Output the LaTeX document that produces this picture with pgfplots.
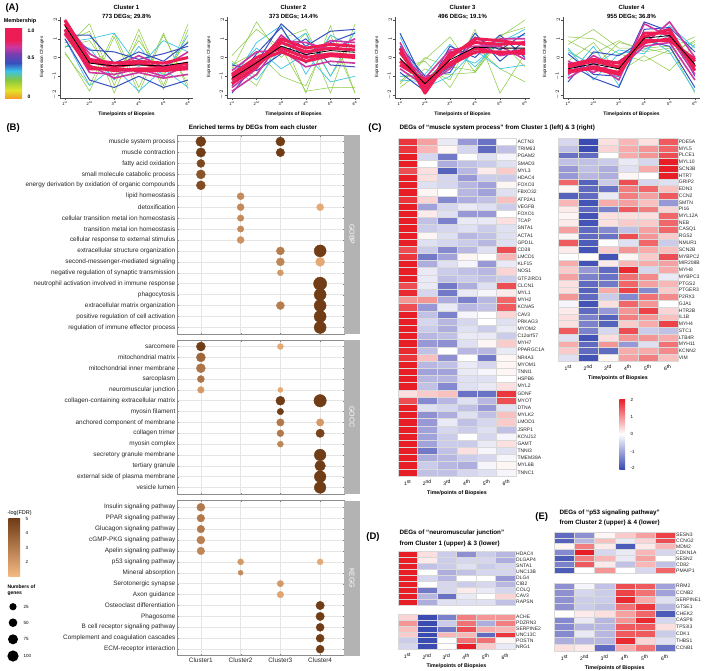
\documentclass[border=0pt]{standalone}
\usepackage{fontspec}
\setmainfont{Liberation Sans}
\usepackage{pgfplots}
\usepackage{pgfplotstable}
\usetikzlibrary{calc}
\pgfplotsset{compat=1.18}

% membership colours (A)
\definecolor{mred}{RGB}{238,28,84}
\definecolor{mmag}{RGB}{205,55,160}
\definecolor{mpur}{RGB}{120,62,175}
\definecolor{mblu}{RGB}{55,80,190}
\definecolor{mcya}{RGB}{60,195,230}
\definecolor{mgrn}{RGB}{135,200,60}
\definecolor{myel}{RGB}{225,228,45}
\definecolor{mora}{RGB}{245,160,35}
% heatmaps
\definecolor{hblue}{RGB}{58,76,178}
\definecolor{hred}{RGB}{232,30,38}
% dot plot
\definecolor{blight}{RGB}{244,184,130}
\definecolor{bdark}{RGB}{112,60,22}
\definecolor{stripgray}{RGB}{179,179,179}

\newcommand{\fs}[1]{\fontsize{#1}{#1}\selectfont}

\newdimen\cellw \newdimen\cellh
\pgfdeclareplotmark{cell}{%
  \pgfpathrectangle{\pgfpoint{-0.5\cellw}{-0.5\cellh}}{\pgfpoint{\cellw}{\cellh}}%
  \pgfusepathqfillstroke}

\pgfplotsset{
  aclust/.style={scale only axis, height=81pt, anchor=north west,
    xmin=0.8, xmax=6.2, ymin=-2.16, ymax=2.16,
    axis x line*=bottom, axis y line*=left,
    xtick={1,...,6}, ytick={-2,...,2},
    xticklabels={1\textsuperscript{st},2\textsuperscript{nd},3\textsuperscript{rd},4\textsuperscript{th},5\textsuperscript{th},6\textsuperscript{th}},
    tick label style={font=\fs{4}, inner sep=1pt},
    yticklabel style={rotate=90, anchor=south},
    axis line style={black!70, line width=0.4pt},
    tick style={black!70, line width=0.4pt},
    major tick length=2pt, tick align=outside,
    no markers, line join=round},
  bpanel/.style n args={2}{scale only axis, width=167pt, height=#1, anchor=north west,
    xmin=0.4, xmax=4.6, ymin=0.4, ymax=#2+0.6, y dir=reverse,
    xtick={1,2,3,4}, ytick={1,...,#2}, xticklabels={},
    grid=major, grid style={black!10, line width=0.5pt},
    axis line style={black!45, line width=0.5pt},
    major tick length=1.5pt, tick style={black!50},
    yticklabel style={font=\fs{6.4}, text=black!85, inner sep=1.5pt},
    colormap={brn}{rgb255=(244,184,130) rgb255=(112,60,22)},
    point meta min=1, point meta max=5.05},
  heat/.style n args={3}{scale only axis, width=#1, height=#2, anchor=north west,
    xmin=0.5, xmax=6.5, ymin=-0.5, ymax=#3-0.5, y dir=reverse,
    axis line style={draw=none}, major tick length=0pt,
    xtick={1,...,6}, ytick={0,...,#3-1}, yticklabel pos=right,
    yticklabel style={font=\fs{5}, inner sep=1pt, text=black!85},
    xticklabels={1\textsuperscript{st},2\textsuperscript{nd},3\textsuperscript{rd},4\textsuperscript{th},5\textsuperscript{th},6\textsuperscript{th}},
    xticklabel style={font=\fs{5}, inner sep=1pt, yshift=-3pt},
    xlabel style={font=\bfseries\fs{5.3}, inner sep=0.5pt, yshift=-3pt},
    colormap={bwr}{rgb255=(58,76,178) rgb255=(152,152,214) rgb255=(255,255,255) rgb255=(245,150,150) rgb255=(232,30,38)},
    point meta min=-2, point meta max=2}
}

\newcommand{\fan}[1]{%
  \pgfplotsinvokeforeach{g1,g2,g3,g4,g5}{\addplot[mgrn, line width=0.5pt] table[x=t,y=##1] {#1};}
  \pgfplotsinvokeforeach{c1,c2,c3}{\addplot[mcya, line width=0.7pt] table[x=t,y=##1] {#1};}
  \pgfplotsinvokeforeach{b1,b2,b3}{\addplot[mblu, line width=1pt] table[x=t,y=##1] {#1};}
  \pgfplotsinvokeforeach{m1,m2,m3}{\addplot[mmag, line width=1.6pt] table[x=t,y=##1] {#1};}
  \pgfplotsinvokeforeach{r1,r2,r3,r4}{\addplot[mred, line width=3pt] table[x=t,y=##1] {#1};}
  \addplot[black, line width=0.8pt] table[x=t,y=mean] {#1};}

\newcommand{\bubbles}[1]{%
  \addplot[scatter, only marks, mark=*, point meta=explicit,
    scatter/use mapped color={draw=mapped color, fill=mapped color},
    visualization depends on={\thisrow{r} \as \perpointmarksize},
    scatter/@pre marker code/.append style={/tikz/mark size=\perpointmarksize}]
    table[x=x, y=y, meta=c] {#1};}

\newcommand{\heatcells}[1]{%
  \pgfplotsinvokeforeach{1,...,6}{%
    \addplot[scatter, only marks, mark=cell, line width=0.3pt, point meta=explicit,
      scatter/use mapped color={draw=black!15, fill=mapped color}]
      table[x expr=##1, y expr=\coordindex, meta index=##1] {#1};}}

% ---------- panel A: expression profiles ----------
\pgfplotstableread{
t mean r1 r2 r3 r4 m1 m2 m3 b1 b2 b3 c1 c2 c3 g1 g2 g3 g4 g5
1 1.7 2.0 1.5 1.8 1.3 1.4 1.9 1.2 1.2 1.0 1.4 0.8 1.0 0.6 0.5 0.3 0.8 0.2 0.6
2 -0.3 -0.1 -0.5 -0.2 -0.6 -0.8 0.2 -0.4 1.2 -1.2 0.4 1.0 -1.5 0.5 1.8 -1.8 1.4 -1.5 0.9
3 -0.45 -0.3 -0.7 -0.5 -0.6 -0.9 -0.5 -1.1 -0.3 -1.6 0.3 1.3 -0.5 -1.2 -1.5 1.1 -1.9 1.3 -1.0
4 -0.4 -0.2 -0.6 -0.3 -0.7 -0.6 0.1 -0.8 0.3 -1.0 -0.1 -0.5 -1.8 0.6 1.5 -1.9 1.2 -1.6 0.9
5 -0.45 -0.3 -0.6 -0.55 -0.7 -1.0 -0.5 -1.1 -0.2 -1.6 0.2 0.9 -0.6 -1.0 -1.5 1.2 -1.7 1.3 -0.9
6 -0.25 0.0 -0.5 -0.3 -0.6 -0.4 0.3 -0.9 0.8 -1.2 0.6 0.3 -1.6 1.2 1.8 -1.5 1.5 -1.7 0.9
}\cA
\pgfplotstableread{
t mean r1 r2 r3 r4 m1 m2 m3 b1 b2 b3 c1 c2 c3 g1 g2 g3 g4 g5
1 -1.1 -1.4 -0.9 -1.2 -1.0 -1.6 -0.7 -1.8 -1.5 -0.4 -1.9 -1.3 -0.3 -0.9 -0.6 -0.2 0.1 -0.5 -0.4
2 -0.28 -0.5 0.0 -0.3 -0.2 -0.6 0.3 -0.9 0.2 -0.7 -0.3 0.8 -1.2 0.5 1.9 -1.0 1.5 -1.5 0.3
3 0.6 0.8 0.5 1.0 0.3 1.2 0.4 0.9 1.6 0.2 1.8 1.7 0.5 -0.6 0.0 1.2 0.5 1.0 -1.0
4 0.16 0.3 0.0 0.5 -0.2 0.1 -0.5 0.8 -0.3 1.0 0.6 -0.9 1.3 0.2 1.3 -1.9 -1.8 1.5 -1.5
5 0.37 0.5 0.2 0.7 0.1 0.9 -0.2 0.4 0.8 -0.4 1.4 1.2 -1.0 -1.3 -1.9 1.7 -1.6 -1.0 1.2
6 0.28 0.4 0.1 0.6 0.0 0.8 -0.3 1.0 1.3 -0.5 1.5 0.5 1.4 -1.0 1.8 -1.9 -1.6 1.0 -1.9
}\cB
\pgfplotstableread{
t mean r1 r2 r3 r4 m1 m2 m3 b1 b2 b3 c1 c2 c3 g1 g2 g3 g4 g5
1 -0.05 0.3 -0.4 0.5 -0.2 0.8 -0.6 0.2 1.3 -0.8 0.6 -1.0 1.1 -1.2 -1.4 -1.6 -1.0 -0.5 -1.3
2 -1.4 -1.6 -1.2 -1.9 -1.3 -1.7 -1.5 -1.1 -1.4 -1.8 -1.0 -0.9 -1.6 -1.3 -0.1 -0.6 -1.0 -0.2 0.0
3 -0.12 0.2 -0.4 0.0 -0.3 0.3 -0.6 0.4 -0.5 0.6 -0.8 0.7 -1.0 0.1 1.1 -1.2 -0.9 -1.6 -0.5
4 0.55 0.8 0.3 1.0 0.5 0.2 0.9 0.6 1.1 0.0 1.3 -0.5 0.4 -0.3 -0.8 1.5 -0.8 0.6 -0.7
5 0.5 0.7 0.3 0.9 0.2 1.0 0.1 0.6 0.4 1.2 -0.2 0.9 -0.6 0.8 1.1 -1.9 0.9 -0.6 1.2
6 0.5 0.8 0.2 0.7 0.4 1.0 0.3 -0.1 1.3 0.0 0.9 1.2 -0.4 1.5 2.0 0.2 -0.5 -1.3 1.6
}\cC
\pgfplotstableread{
t mean r1 r2 r3 r4 m1 m2 m3 b1 b2 b3 c1 c2 c3 g1 g2 g3 g4 g5
1 -0.6 -0.8 -0.4 -0.7 -0.5 -1.1 -0.2 -0.9 -0.3 -1.3 0.2 0.5 -1.0 0.3 0.9 0.7 -0.2 0.4 1.1
2 -0.34 -0.5 -0.1 -0.6 -0.2 -0.3 -0.8 0.1 -1.1 0.3 -0.9 -1.2 0.6 -0.4 0.2 1.5 0.8 -0.5 1.0
3 -0.6 -0.8 -0.3 -0.9 -0.5 -1.2 -0.2 -0.6 -1.6 0.1 -1.0 0.2 -1.5 0.4 0.9 0.5 -0.8 0.8 0.2
4 1.03 1.3 0.8 1.1 0.9 1.8 0.7 0.6 1.5 0.9 1.9 0.4 1.2 0.2 0.3 0.5 0.1 0.5 -0.2
5 1.17 1.3 1.0 1.5 0.9 1.1 1.9 0.8 1.6 0.6 1.4 1.2 0.3 1.7 0.5 0.2 -0.7 0.6 0.4
6 -0.37 -0.5 -0.2 -0.7 -0.1 -0.9 0.0 -1.2 0.3 -1.6 -1.0 0.6 -1.8 0.5 1.1 0.9 0.7 -1.9 0.8
}\cD

% ---------- panel B: enrichment dots (row, cluster, radius pt, -log FDR) ----------
\pgfplotstableread{
y x r c
1 1 5.0 5.0
1 3 4.5 5.0
2 1 4.7 5.0
2 3 4.2 5.0
3 1 4.0 4.6
4 1 4.5 4.2
5 1 4.5 4.5
6 2 3.5 2.5
7 2 3.5 2.5
7 4 3.5 1.5
8 2 3.2 2.5
9 2 3.2 2.5
10 2 3.5 2.2
11 3 4.0 2.9
11 4 6.0 5.0
12 3 4.0 2.6
12 4 4.5 1.5
13 3 3.0 2.0
14 4 6.6 5.0
15 4 6.0 5.0
16 3 4.0 2.9
16 4 6.0 5.0
17 4 6.0 5.0
18 4 6.0 5.0
}\gobp
\pgfplotstableread{
y x r c
1 1 4.5 5.0
1 3 3.0 1.5
2 1 4.5 3.6
3 1 4.5 3.2
4 1 3.5 3.2
5 1 3.3 2.0
5 3 2.6 1.5
6 3 4.5 5.0
6 4 6.2 5.0
7 3 3.2 5.0
8 3 3.7 3.0
8 4 3.7 2.0
9 3 3.4 3.0
9 4 4.2 4.8
10 3 3.0 2.6
11 4 5.8 5.0
12 4 5.3 5.0
13 4 5.8 5.0
14 4 5.8 5.0
}\gocc
\pgfplotstableread{
y x r c
1 1 4.0 3.0
2 1 3.8 3.0
3 1 3.8 3.0
4 1 4.0 2.8
5 1 3.8 2.6
6 2 3.0 2.0
6 4 3.0 1.5
7 2 2.5 2.5
8 3 3.2 2.0
9 3 3.3 1.6
10 4 4.2 5.0
11 4 4.2 5.0
12 4 4.0 5.0
13 4 4.0 5.0
14 4 4.0 5.0
}\kegg

% ---------- panels C-E: heatmaps (z-scores at the six biopsies) ----------
\pgfplotstableread{
g a b c d e f
ACTN3 1.8 0.9 -0.2 -1.0 -1.5 0
TRIM63 1.8 0.7 0.1 -0.4 -1.6 -0.6
PGAM2 2 -0.4 -1.4 0 -0.3 -0.1
SMAD3 2 0 -0.8 -0.6 -0.5 -0.3
MYL3 1.6 0.3 -1.7 -0.7 0.2 0.5
HDAC4 2 0.3 -0.4 -1.0 -0.5 -0.5
FOXO3 2 -0.3 -0.4 -0.7 -0.9 0.1
FBXO32 2 0.1 0 -0.7 -0.9 -0.3
ATP2A1 1.8 0.4 -1.2 -0.8 -0.6 0.6
VEGFB 2 -0.9 -0.4 -0.2 -0.3 -0.5
FOXO1 2 0.2 -0.3 -1.0 -1.0 0
TCAP 2 -0.6 -1.3 -0.2 -0.2 0.3
SNTA1 2 -0.5 -0.4 -0.3 -0.5 -0.3
ACTA1 2 0.1 -0.3 -0.7 -0.6 -0.3
GPD1L 2 -0.3 -0.4 -0.5 -0.7 -0.3
CD38 1.6 -0.5 -1.2 -0.7 -0.3 1.6
LMCD1 1.8 -1.4 -0.9 0.1 0 0.7
KLF15 2 -0.8 -0.3 -0.1 -1.0 -0.2
NOS1 2 -0.2 -0.5 -0.6 -0.7 0.4
GTF2IRD1 2 -0.2 -0.6 -0.5 -0.6 -0.5
CLCN1 1.6 -0.2 -1.4 -0.8 -0.3 1.6
MYL1 1.9 -0.4 -1.4 -0.2 -0.1 0.2
MYH2 1.0 1.0 -0.8 -1.3 -0.7 1.4
KCNA5 1.6 -1.0 -0.2 -0.7 -0.6 1.5
CAV3 2 -0.6 -1.3 -0.1 0 0.4
PRKAG3 2 -0.4 -0.7 -0.4 0 -0.3
MYOM2 2 -0.5 -0.8 -0.3 -0.5 -0.2
C12orf57 2 -0.7 -0.6 -0.2 -0.2 -0.5
MYH7 2 -1.0 -1.1 -0.3 0.1 0.5
PPARGC1A 1.9 -0.6 0 -0.7 -0.7 -0.2
NR4A3 1.8 0.6 -1.1 0 -1.4 0.1
MYOM1 2 -0.7 -0.6 -0.2 -0.4 0.1
TNNI1 2 -0.9 -0.9 -0.2 -0.1 0.1
HSPB6 2 -0.7 -0.7 -0.3 -0.3 0
MYL2 2 -0.6 -1.2 -0.3 -0.2 0.3
GDNF 0.3 0.5 0.6 -1.5 -1.5 1.8
MYOT 1.6 -1.2 -0.7 -0.3 -0.7 1.6
DTNA 2 -0.3 -0.4 -0.6 -1.0 -0.3
MYLK2 2 -1.1 -0.8 -0.3 -0.6 0.6
LMOD1 2 -1.0 -0.2 -0.6 -0.4 0.5
JSRP1 2 -0.9 -0.4 -0.5 -0.3 -0.6
KCNJ12 2 -0.9 -0.5 0 -0.4 -0.1
GAMT 2 -0.9 -0.5 -0.5 -0.2 0.3
TNNI3 2 -1.4 -0.6 0.3 -0.1 -0.3
TMEM38A 2 -0.8 -0.7 -0.5 -0.4 -0.1
MYL6B 2 -0.5 -0.7 -0.8 -0.1 0.1
TNNC1 2 -0.6 -0.6 -0.4 -0.3 -0.1
}\hCL
\pgfplotstableread{
g a b c d e f
PDE5A -0.4 -2 0.3 0.7 0.3 1.5
MYL5 -0.6 -2 0.4 0.8 1.0 1.4
PLCE1 -1.5 -1.6 0 0.8 1.0 1.6
MYL10 -0.6 -0.6 -0.5 -0.2 -0.4 2
SCN3B -1.0 -0.6 -0.8 -0.3 0.8 2
HTR7 -1.0 -0.7 -0.8 0.1 0 2
GRIP2 1.4 -1.7 -0.5 1.6 -0.4 -0.3
EDN3 0.1 -1.6 -1.5 1.2 1.4 0.6
CCN2 -1.7 -1.6 -0.2 1.2 0.9 1.5
SMTN 0.7 -1.9 0.8 0.9 0.6 -1.0
PI16 0.2 -1.6 -1.3 1.5 1.2 0.4
MYL12A 0.1 -1.9 0.3 0.3 0.3 1.4
NEB 0.2 -1.9 0.3 0.5 0.5 1.4
CASQ1 0.9 -1.6 -1.2 -0.6 0.9 1.4
RGS2 0.1 -1.6 -1.5 1.6 1.0 0.5
NMUR1 1.5 -1.8 0 -0.3 1.4 -0.5
SCN2B 0.2 -1.9 0.5 1.0 0.8 0.6
MYBPC2 0 0 -1.9 0.1 0.5 1.6
MIR208B 0.8 -1.9 0.2 0.7 0.8 0.9
MYH8 0.5 -1.0 -1.6 1.9 -0.4 0.8
MYBPC3 0.9 -1.3 -1.5 1.3 1.1 -0.2
PTGS2 0.3 -1.6 -1.4 1.4 0.9 0.7
PTGER3 0.3 -1.7 0.8 1.7 -1.2 0.5
P2RX3 1.0 -1.6 -0.5 -1.2 1.3 1.1
GJA1 -0.1 -1.9 0.3 1.4 1.0 0
HTR2B 0.2 -1.6 -1.0 1.0 1.7 0.4
IL1B 0.3 -1.3 -1.7 1.2 1.0 0.6
MYH4 0.3 -1.3 -1.7 0.5 0.8 1.7
STC1 1.5 -1.3 -0.4 1.6 -0.5 -0.6
LTB4R -0.3 -1.9 0.3 1.0 1.0 0.8
MYH11 0.8 -1.6 1.0 -1.0 -0.3 1.3
KCNN2 0.5 -1.6 -1.6 0.8 0.8 1.1
VIM -0.3 -1.9 0.1 0.9 1.2 0.6
}\hCR
\pgfplotstableread{
g a b c d e f
HDAC4 2 0.3 -0.5 -1.1 -0.5 -0.7
DLGAP4 2 0.2 -0.5 -0.4 -0.4 -0.8
SNTA1 2 -0.6 -0.5 -0.3 -0.5 -0.4
UNC13B 2 0 -0.8 -0.6 -0.4 -0.4
DLG4 2 -0.4 -0.7 0 0 -1.0
CIB2 2 0 -0.4 -0.5 -0.4 -0.7
COLQ 2 -1.4 -0.4 0.2 -0.2 -0.4
CAV3 2 -0.7 -1.5 -0.2 0 0.4
RAPSN 2 -0.8 -0.3 -0.3 -0.3 -0.6
}\hDU
\pgfplotstableread{
g a b c d e f
ACHE 0.4 -2 -1.3 1.2 1.0 1.0
PDZRN3 1.0 -2 -0.5 1.3 -0.8 1.2
SERPINE2 0.6 -2 -1.4 1.6 0.8 0.7
UNC13C 0.5 -2 0.7 0.7 -1.6 1.8
POSTN -0.5 -2 0 1.3 1.3 0.1
NRG1 -0.4 -2 0 2 0.5 -0.2
}\hDL
\pgfplotstableread{
g a b c d e f
SESN3 -1.6 -1.1 0.1 0.5 0.9 1.7
CCNG2 -1.7 -0.7 0.6 -0.2 0.4 1.6
MDM2 0.1 1.2 0.2 -1.8 0.2 0.7
CDKN1A -1.2 2 -0.4 -0.2 0.7 -0.4
SESN2 -1.8 1.2 0.7 -0.2 0.9 0
CD82 -1.3 1.5 0.2 -0.6 0.7 -0.6
PMAIP1 -1.8 0 1.0 0 -0.4 1.4
}\hEU
\pgfplotstableread{
g a b c d e f
RRM2 -1.1 -0.1 -0.6 1.6 1.5 -0.9
CCNB2 -1.1 -0.4 -0.5 1.7 1.3 -0.9
SERPINE1 -1.1 -0.5 -0.5 1.9 0.8 -0.3
GTSE1 -1.1 -0.5 -0.6 1.3 1.8 -0.7
CHEK2 0 0.2 0.3 0.9 1.4 -1.8
CASP8 -1.2 -0.2 -0.7 1.0 1.9 -0.4
TP53I3 -1.2 -0.7 -0.7 1.5 1.5 0.3
CDK1 -1.2 -0.2 -0.7 1.5 1.5 -0.5
THBS1 -0.8 -0.7 -0.7 1.9 0.4 -0.3
CCNB1 0.3 0.2 -1.6 0.8 1.3 -1.5
}\hEL

\begin{document}
\begin{tikzpicture}[x=1pt, y=1pt]
\useasboundingbox (0,0) rectangle (709,-670);

% ======================= (A) =======================
\node[font=\bfseries\fs{9.5}, anchor=west] at (2,-8) {(A)};
\node[font=\bfseries\fs{5.5}] at (20,-21) {Membership};
\shade[top color=mred, bottom color=mred] (5,-28) rectangle (22,-40);
\shade[top color=mred, bottom color=mmag] (5,-40) rectangle (22,-47);
\shade[top color=mmag, bottom color=mpur] (5,-47) rectangle (22,-54);
\shade[top color=mpur, bottom color=mblu] (5,-54) rectangle (22,-63);
\shade[top color=mblu, bottom color=mcya] (5,-63) rectangle (22,-71);
\shade[top color=mcya, bottom color=mgrn] (5,-71) rectangle (22,-80);
\shade[top color=mgrn, bottom color=myel] (5,-80) rectangle (22,-90);
\shade[top color=myel, bottom color=mora] (5,-90) rectangle (22,-98);
\node[font=\bfseries\fs{5}, anchor=west] at (24,-31) {1.0};
\node[font=\bfseries\fs{5}, anchor=west] at (24,-58) {0.5};
\node[font=\bfseries\fs{5}, anchor=west] at (24,-97) {0};

\begin{axis}[aclust, width=133pt, at={(60pt,-17pt)}] \fan{\cA} \end{axis}
\begin{axis}[aclust, width=133pt, at={(227pt,-17pt)}] \fan{\cB} \end{axis}
\begin{axis}[aclust, width=135pt, at={(395pt,-17pt)}] \fan{\cC} \end{axis}
\begin{axis}[aclust, width=137pt, at={(563pt,-17pt)}] \fan{\cD} \end{axis}

\foreach \cx/\yl/\nm/\dg in {126.5/42/1/{773 DEGs; 29.8\%}, 293.5/209/2/{373 DEGs; 14.4\%}, 462.5/377/3/{496 DEGs; 19.1\%}, 631.5/545/4/{955 DEGs; 36.8\%}}{
  \node[font=\bfseries\fs{6}] at (\cx,-7) {Cluster \nm};
  \node[font=\bfseries\fs{6}] at (\cx,-17) {\dg};
  \node[font=\bfseries\fs{5}] at (\cx,-114) {Time/points of Biopsies};
  \node[font=\fs{4.5}, rotate=90] at (\yl,-57) {Expression Changes};
}

% ======================= (B) =======================
\node[font=\bfseries\fs{9.5}, anchor=west] at (3,-128) {(B)};
\node[font=\bfseries\fs{6.3}] at (253,-128) {Enriched terms by DEGs from each cluster};

\begin{axis}[bpanel={199pt}{18}, at={(177pt,-135pt)}, name=pbp,
  yticklabels={{muscle system process},{muscle contraction},{fatty acid oxidation},{small molecule catabolic process},{energy derivation by oxidation of organic compounds},{lipid homeostasis},{detoxification},{cellular transition metal ion homeostasis},{transition metal ion homeostasis},{cellular response to external stimulus},{extracellular structure organization},{second-messenger-mediated signaling},{negative regulation of synaptic transmission},{neutrophil activation involved in immune response},{phagocytosis},{extracellular matrix organization},{positive regulation of cell activation},{regulation of immune effector process}}]
\bubbles{\gobp}
\end{axis}
\begin{axis}[bpanel={154pt}{14}, at={(177pt,-340pt)}, name=pcc,
  yticklabels={{sarcomere},{mitochondrial matrix},{mitochondrial inner membrane},{sarcoplasm},{neuromuscular junction},{collagen-containing extracellular matrix},{myosin filament},{anchored component of membrane},{collagen trimer},{myosin complex},{secretory granule membrane},{tertiary granule},{external side of plasma membrane},{vesicle lumen}}]
\bubbles{\gocc}
\end{axis}
\begin{axis}[bpanel={155pt}{14}, at={(177pt,-500.7pt)}, name=pkg,
  xticklabels={Cluster1,Cluster2,Cluster3,Cluster4},
  xticklabel style={font=\fs{6.4}, text=black!85, inner sep=2pt},
  yticklabels={{Insulin signaling pathway},{PPAR signaling pathway},{Glucagon signaling pathway},{cGMP-PKG signaling pathway},{Apelin signaling pathway},{p53 signaling pathway},{Mineral absorption},{Serotonergic synapse},{Axon guidance},{Osteoclast differentiation},{Phagosome},{B cell receptor signaling pathway},{Complement and coagulation cascades},{ECM-receptor interaction}}]
\bubbles{\kegg}
\end{axis}
\foreach \p/\lab in {pbp/GOBP, pcc/GOCC, pkg/KEGG}{
  \fill[stripgray] (\p.north east) rectangle ([xshift=16pt]\p.south east);
  \node[font=\fs{7}, text=white, rotate=-90] at ($(\p.north east)!0.5!(\p.south east)+(8,0)$) {\lab};
}

% legends of B
\node[font=\fs{5.5}, anchor=west] at (4,-513) {-log(FDR)};
\shade[top color=bdark, bottom color=blight] (8.3,-518.3) rectangle (20,-576);
\foreach \v/\yy in {5/519, 4/533.3, 3/547.7, 2/562}{\node[font=\fs{4.5}, anchor=west] at (22,-\yy) {\v};}
\node[font=\bfseries\fs{5}, anchor=west] at (4,-587) {Numbers of};
\node[font=\bfseries\fs{5}, anchor=west] at (4,-594) {genes};
\foreach \v/\yy/\rr in {25/606.7/3.6, 50/622.7/4.3, 75/639.3/5.0, 100/656/5.6}{
  \fill[black] (13,-\yy) circle (\rr);
  \node[font=\fs{4.5}, anchor=west] at (20,-\yy) {\v};}

% ======================= (C) =======================
\node[font=\bfseries\fs{9.5}] at (375,-128) {(C)};
\node[font=\bfseries\fs{6.3}, anchor=west] at (396,-128) {DEGs of “muscle system process” from Cluster 1 (left) \& 3 (right)};

\cellw=19.77pt \cellh=7.185pt
\begin{axis}[heat={118.6pt}{337.7pt}{47}, at={(397.7pt,-138.3pt)},
  yticklabels from table={\hCL}{g}, xlabel={Time/points of Biopsies}]
\heatcells{\hCL}
\end{axis}
\cellw=19.9pt \cellh=6.75pt
\begin{axis}[heat={119.4pt}{222.7pt}{33}, at={(558.3pt,-138.3pt)},
  yticklabels from table={\hCR}{g}, xlabel={Time/points of Biopsies}]
\heatcells{\hCR}
\end{axis}
% colour key
\shade[top color=hred, bottom color=white] (619.3,-399) rectangle (625,-434);
\shade[top color=white, bottom color=hblue] (619.3,-434) rectangle (625,-469);
\foreach \v/\yy in {2/400, 1/417, 0/434, -1/452, -2/468}{\node[font=\fs{4.5}, anchor=west] at (627,-\yy) {\v};}

% ======================= (D) =======================
\node[font=\bfseries\fs{9.5}] at (373,-537) {(D)};
\node[font=\bfseries\fs{6.3}, anchor=west] at (396,-533) {DEGs of “neuromuscular junction”};
\node[font=\bfseries\fs{6.3}, anchor=west] at (396,-544) {from Cluster 1 (upper) \& 3 (lower)};
\cellw=19.55pt \cellh=6.03pt
\begin{axis}[heat={117.3pt}{54.3pt}{9}, at={(397.7pt,-550.7pt)},
  yticklabels from table={\hDU}{g}, xticklabels={}]
\heatcells{\hDU}
\end{axis}
\cellw=19.55pt \cellh=5.88pt
\begin{axis}[heat={117.3pt}{35.3pt}{6}, at={(397.7pt,-614pt)},
  yticklabels from table={\hDL}{g}, xlabel={Time/points of Biopsies}]
\heatcells{\hDL}
\end{axis}

% ======================= (E) =======================
\node[font=\bfseries\fs{9.5}] at (541.7,-517) {(E)};
\node[font=\bfseries\fs{6.3}, anchor=west] at (556,-513) {DEGs of “p53 signaling pathway”};
\node[font=\bfseries\fs{6.3}, anchor=west] at (556,-523) {from Cluster 2 (upper) \& 4 (lower)};
\cellw=20.12pt \cellh=5.94pt
\begin{axis}[heat={120.7pt}{41.6pt}{7}, at={(554.3pt,-531.7pt)},
  yticklabels from table={\hEU}{g}, xticklabels={}]
\heatcells{\hEU}
\end{axis}
\cellw=20.12pt \cellh=6.8pt
\begin{axis}[heat={120.7pt}{68pt}{10}, at={(554.3pt,-582.7pt)},
  yticklabels from table={\hEL}{g}, xlabel={Time/points of Biopsies}]
\heatcells{\hEL}
\end{axis}
\end{tikzpicture}
\end{document}
